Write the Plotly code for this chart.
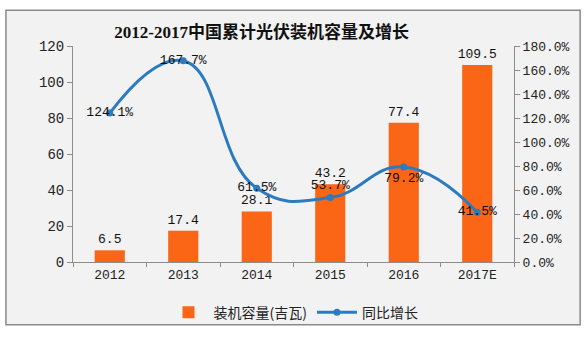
import plotly.graph_objects as go

# China cumulative PV installed capacity, 2012-2017
years = ["2012", "2013", "2014", "2015", "2016", "2017E"]
capacity_gw = [6.5, 17.4, 28.1, 43.2, 77.4, 109.5]
growth_pct = [124.1, 167.7, 61.5, 53.7, 79.2, 41.5]
growth_label_pos = ["middle center", "middle center", "middle center",
                    "top center", "bottom center", "middle center"]

title_text = "2012-2017中国累计光伏装机容量及增长"
bar_name = "装机容量(吉瓦)"
line_name = "同比增长"

FONT = "Liberation Mono, Noto Sans CJK SC, monospace"
AXIS_GREY = "#8c8c8c"

fig = go.Figure()

fig.add_trace(go.Bar(
    x=years, y=capacity_gw, name=bar_name,
    marker=dict(color="#FA6516", line=dict(width=0)),
    width=0.41,
    text=[f"{v:.1f}" for v in capacity_gw],
    textposition="outside", cliponaxis=False, constraintext="none",
    textfont=dict(family=FONT, size=13, color="#111111"),
    yaxis="y",
))

fig.add_trace(go.Scatter(
    x=years, y=growth_pct, name=line_name,
    mode="lines+markers+text",
    line=dict(color="#2B7BC1", width=3, shape="spline", smoothing=1.3),
    marker=dict(color="#2B7BC1", size=7),
    text=[f"{v:.1f}%" for v in growth_pct],
    textposition=growth_label_pos,
    textfont=dict(family=FONT, size=13, color="#111111"),
    cliponaxis=False,
    yaxis="y2",
))

# framed light-grey panel behind the chart
fig.add_shape(type="rect", xref="paper", yref="paper",
              x0=-0.152, x1=1.150, y0=-0.291, y1=1.166,
              fillcolor="#F2F2F2", line=dict(color="#8a8a8a", width=1.5),
              layer="below")

fig.update_layout(
    width=588, height=340,
    margin=dict(l=73, r=74, t=46, b=71),
    paper_bgcolor="white", plot_bgcolor="rgba(0,0,0,0)",
    title=dict(text=f"<b>{title_text}</b>", x=0.445, xanchor="center",
               y=0.905, yanchor="middle",
               font=dict(family="Liberation Serif, Noto Sans CJK SC, serif",
                         size=17, color="#111111")),
    font=dict(family=FONT, size=12, color="#222222"),
    bargap=0.59,
    showlegend=True,
    legend=dict(orientation="h", x=0.5, xanchor="center", y=-0.16, yanchor="top",
                font=dict(family="Noto Sans CJK SC, sans-serif", size=14, color="#222222"),
                bgcolor="rgba(0,0,0,0)", itemwidth=40),
    xaxis=dict(showline=True, linecolor=AXIS_GREY, linewidth=1,
               ticks="outside", tickson="boundaries", ticklen=4, tickcolor=AXIS_GREY,
               tickfont=dict(family=FONT, size=13, color="#222222"),
               showgrid=False, zeroline=False),
    yaxis=dict(range=[0, 120], dtick=20, showline=True, linecolor=AXIS_GREY,
               ticks="outside", ticklen=5, tickcolor=AXIS_GREY,
               tickfont=dict(family=FONT, size=14, color="#222222"),
               showgrid=False, zeroline=False),
    yaxis2=dict(range=[0, 180], dtick=20, overlaying="y", side="right",
                showline=True, linecolor=AXIS_GREY,
                ticks="outside", ticklen=5, tickcolor=AXIS_GREY,
                tickformat=".1f", ticksuffix="%",
                tickfont=dict(family=FONT, size=13, color="#222222"),
                showgrid=False, zeroline=False),
)

fig.write_html("out.html")
